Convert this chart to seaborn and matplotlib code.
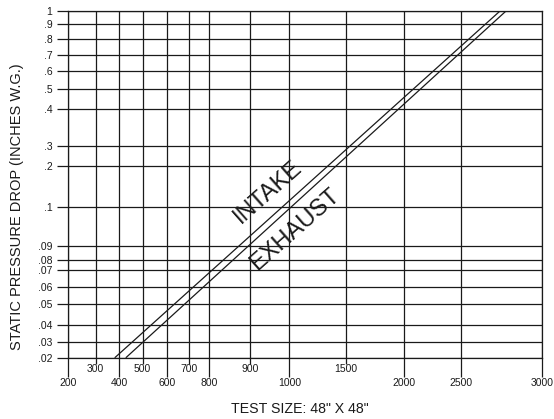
import numpy as np
import pandas as pd
import matplotlib
matplotlib.use("Agg")
import matplotlib.pyplot as plt
import seaborn as sns
from matplotlib.ticker import FixedLocator, FixedFormatter, NullLocator

# chart values
x_major = [200, 400, 600, 800, 1000, 2000, 2500, 3000]
x_minor = [300, 500, 700, 900, 1500]
y_ticks = [.02, .03, .04, .05, .06, .07, .08, .09, .1, .2, .3, .4, .5, .6, .7, .8, .9, 1]
y_labels = [".02", ".03", ".04", ".05", ".06", ".07", ".08", ".09", ".1",
            ".2", ".3", ".4", ".5", ".6", ".7", ".8", ".9", "1"]

intake_cfm = [383, 2740]
intake_dp = [0.02, 1.0]
exhaust_cfm = [430, 2777]
exhaust_dp = [0.02, 1.0]

# the printed chart has an uneven grid, so map values onto it piecewise
x_grid_vals = [200, 300, 400, 500, 600, 700, 800, 900, 1000, 1500, 2000, 2500, 3000]
x_grid_pos = [0, 28, 51.3, 75, 99, 121, 141, 182.3, 221.6, 278, 336, 393.3, 474.6]
y_grid_pos = [0, 15.3, 32.5, 53.5, 70.5, 87.8, 97.8, 111.8, 150.2, 191.8,
              211.8, 248.2, 268.2, 286.5, 302.5, 318.2, 333.2, 346.5]


def x_fwd(v):
    return np.interp(v, x_grid_vals, x_grid_pos)


def x_inv(p):
    return np.interp(p, x_grid_pos, x_grid_vals)


def y_fwd(v):
    return np.interp(v, y_ticks, y_grid_pos)


def y_inv(p):
    return np.interp(p, y_grid_pos, y_ticks)


sns.set_style("white")
plt.rcParams['font.family'] = ['Liberation Sans', 'DejaVu Sans']

ink = "#1a1a1a"
fig = plt.figure(figsize=(5.54, 4.19), dpi=100)
ax = fig.add_axes([67.7 / 554, (419 - 357.5) / 419, 474.6 / 554, 346.5 / 419])
ax.set_xscale("function", functions=(x_fwd, x_inv))
ax.set_yscale("function", functions=(y_fwd, y_inv))

df = pd.concat([
    pd.DataFrame({"cfm": intake_cfm, "dp": intake_dp, "kind": "INTAKE"}),
    pd.DataFrame({"cfm": exhaust_cfm, "dp": exhaust_dp, "kind": "EXHAUST"}),
])
sns.lineplot(data=df, x="cfm", y="dp", units="kind", estimator=None,
             color=ink, lw=0.9, ax=ax, legend=False)

ax.set_xlim(200, 3000)
ax.set_ylim(0.02, 1)

ax.xaxis.set_major_locator(FixedLocator(x_major))
ax.xaxis.set_major_formatter(FixedFormatter([str(v) for v in x_major]))
ax.xaxis.set_minor_locator(FixedLocator(x_minor))
ax.xaxis.set_minor_formatter(FixedFormatter([str(v) for v in x_minor]))
ax.yaxis.set_major_locator(FixedLocator(y_ticks))
ax.yaxis.set_major_formatter(FixedFormatter(y_labels))
ax.yaxis.set_minor_locator(NullLocator())

ax.tick_params(axis="x", which="major", direction="out", length=14, width=0.9,
               color=ink, pad=1, labelsize=7.5, labelcolor=ink, bottom=True)
ax.tick_params(axis="x", which="minor", direction="out", length=4, width=0.9,
               color=ink, pad=1, labelsize=7.5, labelcolor=ink, bottom=True)
ax.tick_params(axis="y", which="major", direction="out", length=8, width=0.9,
               color=ink, pad=3, labelsize=7.5, labelcolor=ink, left=True)

ax.grid(True, which="both", color=ink, lw=0.9)
for s in ax.spines.values():
    s.set_visible(True)
    s.set_color(ink)
    s.set_linewidth(0.9)

ax.set_xlabel('TEST SIZE: 48" X 48"', fontsize=10.2, color=ink, va="center")
ax.xaxis.set_label_coords(0.4895, -0.1486)
ax.set_ylabel("STATIC PRESSURE DROP (INCHES W.G.)", fontsize=10.5, color=ink, va="center")
ax.yaxis.set_label_coords(-0.1075, 0.434)

ax.text(946, 0.137, "INTAKE", rotation=41.5, fontsize=17, color=ink,
        ha="center", va="center", rotation_mode="anchor")
ax.text(1050, 0.0943, "EXHAUST", rotation=41.5, fontsize=17, color=ink,
        ha="center", va="center", rotation_mode="anchor")

fig.savefig("out.png", dpi=100)
